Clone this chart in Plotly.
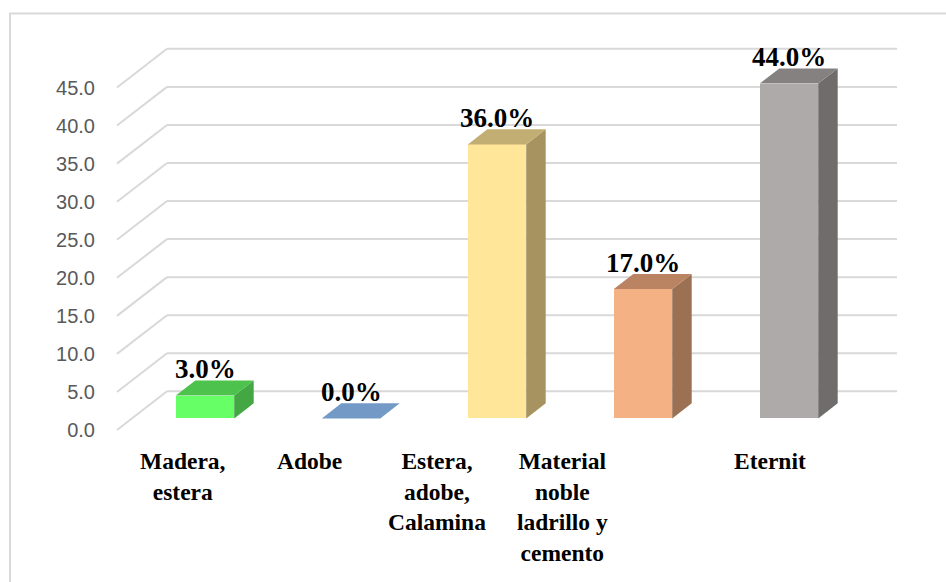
import plotly.graph_objects as go

# Material del techo de la vivienda (%)
categories = ["Madera, estera", "Adobe", "Estera, adobe, Calamina",
              "Material noble ladrillo y cemento", "Eternit"]
label_lines = ["Madera,<br>estera", "Adobe", "Estera,<br>adobe,<br>Calamina",
               "Material<br>noble<br>ladrillo y<br>cemento", "Eternit"]
values = [3.0, 0.0, 36.0, 17.0, 44.0]
tick_values = [0, 5, 10, 15, 20, 25, 30, 35, 40, 45]

# Face colours per bar: front, top, side
front_colors = ["#66FF66", "#7399C6", "#FFE699", "#F4B183", "#AEAAAA"]
top_colors = ["#4DC24D", "#7399C6", "#C2AE73", "#BA8462", "#858181"]
side_colors = ["#43A843", "#5F80A6", "#A6935F", "#9C7052", "#6F6C6C"]

# Oblique projection: a point at depth d (0 = front, 1 = back wall)
# is shifted right by d*DX category units and up by d*DY value units.
DX = 0.3425
DY = 5.085
D_FRONT = 0.30   # depth of a bar's front face
D_BACK = 0.69    # depth of a bar's back face
BAR_W = 0.40

W, H = 946, 582
PLOT_LEFT = 105
X_RANGE = [-0.5822, 5.178]
Y_RANGE = [-19.97, 56.50]

fig = go.Figure()

# Back wall gridlines plus the diagonal side edges (drawn beneath bars)
shapes = []
grid = dict(color="#D9D9D9", width=2)
for v in tick_values:
    shapes.append(dict(type="line", xref="x", yref="y", layer="below",
                       x0=-0.5 + DX, y0=v + DY, x1=4.5 + DX, y1=v + DY, line=grid))
    shapes.append(dict(type="line", xref="x", yref="y", layer="below",
                       x0=-0.5, y0=v, x1=-0.5 + DX, y1=v + DY, line=grid))

# Outer chart frame
px_to_paper_x = lambda p: (p - PLOT_LEFT) / (W - PLOT_LEFT)
px_to_paper_y = lambda p: 1 - p / H
shapes.append(dict(type="rect", xref="paper", yref="paper", layer="below",
                   x0=px_to_paper_x(10), y0=-0.1, x1=1.1, y1=px_to_paper_y(13.5),
                   line=dict(color="#D9D9D9", width=2), fillcolor="rgba(0,0,0,0)"))

# Front faces of the bars
xs_front = [i + D_FRONT * DX for i in range(len(values))]
fig.add_trace(go.Bar(
    x=xs_front, y=values, base=[D_FRONT * DY] * len(values), width=BAR_W,
    marker=dict(color=front_colors, line=dict(width=0)),
    hoverinfo="skip", showlegend=False,
))

# Side and top faces
ddx = (D_BACK - D_FRONT) * DX
ddy = (D_BACK - D_FRONT) * DY
for i, v in enumerate(values):
    xl = xs_front[i] - BAR_W / 2
    xr = xs_front[i] + BAR_W / 2
    yb = D_FRONT * DY
    yt = v + D_FRONT * DY
    if v > 0:
        fig.add_trace(go.Scatter(
            x=[xr, xr + ddx, xr + ddx, xr, xr],
            y=[yb, yb + ddy, yt + ddy, yt, yb],
            fill="toself", fillcolor=side_colors[i], mode="lines",
            line=dict(width=0), hoverinfo="skip", showlegend=False))
    fig.add_trace(go.Scatter(
        x=[xl, xr, xr + ddx, xl + ddx, xl],
        y=[yt, yt, yt + ddy, yt + ddy, yt],
        fill="toself", fillcolor=top_colors[i], mode="lines",
        line=dict(width=0), hoverinfo="skip", showlegend=False))

# Value labels above each bar
annotations = []
for i, v in enumerate(values):
    annotations.append(dict(
        x=xs_front[i], y=v + D_BACK * DY, xref="x", yref="y",
        text=f"<b>{v:.1f}%</b>", showarrow=False, yanchor="bottom",
        xanchor="center", yshift=-6,
        font=dict(family="Liberation Serif", size=27, color="#000000"),
    ))

# Category labels below the floor
label_x = [-0.05, 0.82, 1.69, 2.55, 3.97]
for lx, txt in zip(label_x, label_lines):
    annotations.append(dict(
        x=lx, y=px_to_paper_y(446), xref="x", yref="paper",
        text=f"<b>{txt}</b>", showarrow=False, yanchor="top", xanchor="center",
        align="center",
        font=dict(family="Liberation Serif", size=23.5, color="#000000"),
    ))

fig.update_layout(
    width=W, height=H,
    margin=dict(l=PLOT_LEFT, r=0, t=0, b=0),
    paper_bgcolor="white", plot_bgcolor="white",
    shapes=shapes, annotations=annotations,
    xaxis=dict(range=X_RANGE, showgrid=False, zeroline=False,
               showticklabels=False, showline=False, fixedrange=True),
    yaxis=dict(range=Y_RANGE, tickvals=tick_values, tickformat=".1f",
               showgrid=False, zeroline=False, showline=False, ticks="",
               ticklabelstandoff=9,
               tickfont=dict(family="Liberation Sans", size=20, color="#595959"),
               fixedrange=True),
    bargap=0,
)

fig.write_html("out.html")
